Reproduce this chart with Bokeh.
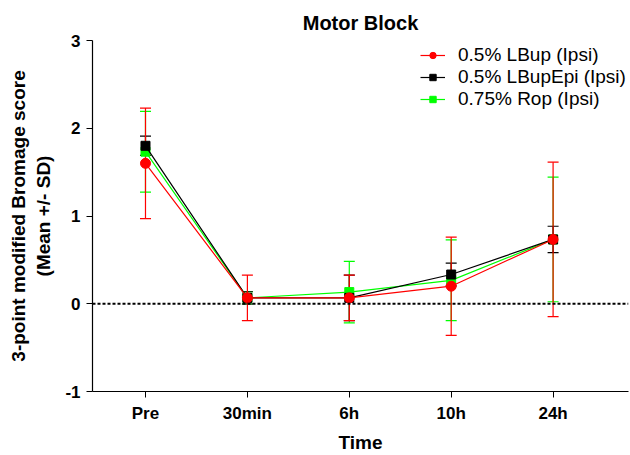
from bokeh.plotting import figure
from bokeh.models import (Range1d, FixedTicker, ColumnDataSource, Whisker, TeeHead,
                          Span, Legend, LegendItem, Title)
from bokeh.embed import file_html
from bokeh.resources import INLINE

categories = ["Pre", "30min", "6h", "10h", "24h"]
series_names = ["0.5% LBup (Ipsi)", "0.5% LBupEpi (Ipsi)", "0.75% Rop (Ipsi)"]
lbup_mean = [1.60, 0.067, 0.067, 0.20, 0.733]
lbup_sd = [0.63, 0.26, 0.26, 0.56, 0.88]
lbupepi_mean = [1.80, 0.067, 0.067, 0.333, 0.733]
lbupepi_sd = [0.11, 0.07, 0.26, 0.13, 0.15]
rop_mean = [1.733, 0.067, 0.133, 0.267, 0.733]
rop_sd = [0.46, 0.07, 0.35, 0.46, 0.71]
y_ticks = [-1, 0, 1, 2, 3]
y_tick_labels = ["-1", "0", "1", "2", "3"]

FONT = "Liberation Sans"
xs = list(range(len(categories)))

p = figure(width=630, height=455, output_backend="svg", toolbar_location=None,
           x_range=Range1d(-0.52, 4.74), y_range=Range1d(-1, 3),
           min_border_left=92, min_border_right=2, min_border_top=40, min_border_bottom=62)
p.outline_line_color = None
p.xgrid.visible = False
p.ygrid.visible = False
p.background_fill_color = "white"
p.border_fill_color = "white"

p.title = Title(text="Motor Block", align="center", text_font=FONT,
                text_font_size="20px", text_font_style="bold", text_color="black",
                standoff=14)

# axes
p.xaxis.ticker = FixedTicker(ticks=xs)
p.xaxis.major_label_overrides = {i: c for i, c in zip(xs, categories)}
p.yaxis.ticker = FixedTicker(ticks=y_ticks)
p.yaxis.major_label_overrides = {t: l for t, l in zip(y_ticks, y_tick_labels)}
for ax in (p.xaxis[0], p.yaxis[0]):
    ax.axis_line_color = "black"
    ax.axis_line_width = 1.2
    ax.major_tick_line_color = "black"
    ax.major_tick_in = 0
    ax.major_tick_out = 6
    ax.minor_tick_line_color = None
    ax.major_label_text_font = FONT
    ax.major_label_text_font_style = "bold"
    ax.major_label_text_font_size = "17px"
    ax.major_label_text_color = "black"
    ax.axis_label_text_font = FONT
    ax.axis_label_text_font_style = "bold"
    ax.axis_label_text_font_size = "19px"
    ax.axis_label_text_color = "black"
p.xaxis.axis_label = "Time"
p.yaxis.axis_label = "3-point modified Bromage score\n(Mean +/- SD)"
p.xaxis.major_label_standoff = 6
p.xaxis.axis_label_standoff = 6
p.yaxis.major_label_standoff = 6
p.yaxis.axis_label_standoff = 8

# zero reference line
p.add_layout(Span(location=0, dimension="width", line_color="black",
                  line_width=2, line_dash="3 2"))

series = [
    (series_names[2], rop_mean, rop_sd, "#00ff00", "square"),
    (series_names[1], lbupepi_mean, lbupepi_sd, "black", "square"),
    (series_names[0], lbup_mean, lbup_sd, "red", "circle"),
]
renderers = {}
for name, mean, sd, color, marker in series:
    src = ColumnDataSource(dict(x=xs, y=mean,
                                upper=[m + s for m, s in zip(mean, sd)],
                                lower=[m - s for m, s in zip(mean, sd)]))
    w = Whisker(source=src, base="x", upper="upper", lower="lower",
                line_color=color, line_width=1.2,
                upper_head=TeeHead(size=11, line_color=color, line_width=1.2),
                lower_head=TeeHead(size=11, line_color=color, line_width=1.2))
    p.add_layout(w)
    ln = p.line("x", "y", source=src, line_color=color, line_width=1.2)
    if marker == "circle":
        sc = p.scatter("x", "y", source=src, marker="circle", size=10,
                       fill_color=color, line_color=color)
    else:
        sc = p.scatter("x", "y", source=src, marker="square", size=9,
                       fill_color=color, line_color=color)
    renderers[name] = [ln, sc]

legend = Legend(items=[LegendItem(label=n, renderers=renderers[n]) for n in series_names],
                location=(328, 281), border_line_color=None, background_fill_alpha=0,
                label_text_font=FONT, label_text_font_size="19px", label_text_color="black",
                glyph_width=25, glyph_height=16, spacing=0, padding=4, margin=0,
                label_standoff=13, label_height=18)
p.add_layout(legend)

open("out.html", "w").write(file_html(p, INLINE))
